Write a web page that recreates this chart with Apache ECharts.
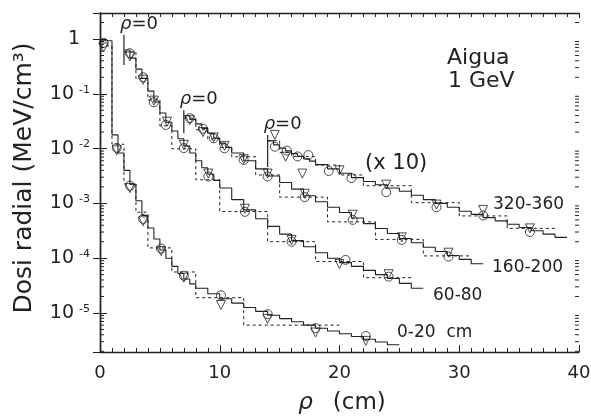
<!DOCTYPE html>
<html>
<head>
<meta charset="utf-8">
<script src="https://cdn.jsdelivr.net/npm/echarts@6/dist/echarts.min.js"></script>
<style>
  html, body { margin: 0; padding: 0; background: #fff; }
  #chart { width: 591px; height: 418px; }
</style>
</head>
<body>
<div id="chart"></div>
<script>
// eixos
const xMin = 0, xMax = 40, xStep = 10;
const yMin = 1.94e-6, yMax = 2.98;
const decadeLabels = ['1', '10 -1', '10 -2', '10 -3', '10 -4', '10 -5'];

// 0-20 cm : histograma continu (simulacio), histograma discontinu, mesures
const edges020 = [0, 1, 1.5, 2, 2.5, 3, 3.5, 4, 4.5, 5, 5.5, 6, 6.5, 7, 7.5, 8, 9, 10, 11, 12, 13, 14, 15, 16, 17, 18, 19, 20, 21, 22, 23, 24, 25];
const solid020 = [0.93, 0.0178, 0.0083, 0.0040, 0.00224, 0.00112, 6.0e-4, 3.55e-4, 2.24e-4, 1.41e-4, 1.0e-4, 7.1e-5, 5.25e-5, 4.17e-5, 3.39e-5, 2.82e-5, 2.24e-5, 1.82e-5, 1.51e-5, 1.26e-5, 1.07e-5, 9.1e-6, 7.9e-6, 6.9e-6, 6.0e-6, 5.25e-6, 4.68e-6, 4.17e-6, 3.72e-6, 3.31e-6, 2.95e-6, 2.63e-6];
const dashEdges020 = [0, 1, 2, 3, 4, 6, 8, 12, 20];
const dash020 = [0.75, 0.012, 0.00226, 6.9e-4, 1.54e-4, 5.6e-5, 1.9e-5, 6.0e-6];
const circ020 = [[0.3, 0.85], [1.4, 0.0103], [2.5, 0.0021], [3.6, 5.2e-4], [5.1, 1.5e-4], [7.0, 4.8e-5], [10.1, 2.1e-5], [14.0, 9.5e-6], [18.0, 5.3e-6], [22.2, 3.8e-6]];
const tri020 = [[0.3, 0.7], [1.4, 0.0093], [2.5, 0.0019], [3.6, 4.7e-4], [5.1, 1.35e-4], [7.0, 4.4e-5], [10.1, 1.4e-5], [14.0, 7.8e-6], [18.0, 4.4e-6], [22.2, 3.1e-6]];

// 60-80 cm (desplacat, rho=0 a x=2)
const edges6080 = [2, 2.5, 3, 3.5, 4, 4.5, 5, 5.5, 6, 6.5, 7, 7.5, 8, 8.5, 9, 9.5, 10, 11, 12, 13, 14, 15, 16, 17, 18, 19, 20, 21, 22, 23, 24, 25, 26, 27];
const solid6080 = [0.631, 0.447, 0.282, 0.191, 0.112, 0.0708, 0.0447, 0.0302, 0.0209, 0.0151, 0.0112, 0.0083, 0.0060, 0.00447, 0.00339, 0.00263, 0.00191, 0.00117, 7.6e-4, 5.25e-4, 3.8e-4, 2.75e-4, 2.09e-4, 1.62e-4, 1.26e-4, 1.0e-4, 8.3e-5, 7.1e-5, 6.0e-5, 5.0e-5, 4.27e-5, 3.47e-5, 2.82e-5];
const dashEdges6080 = [2, 3, 4, 5, 6, 8, 10, 14, 18, 22, 26];
const dash6080 = [0.58, 0.19, 0.077, 0.026, 0.0099, 0.0027, 7.1e-4, 2.0e-4, 8.7e-5, 4.4e-5];
const circ6080 = [[2.5, 0.55], [3.6, 0.20], [4.5, 0.070], [5.5, 0.027], [7.0, 0.0102], [9.05, 0.0031], [12.1, 7.0e-4], [16.0, 2.0e-4], [20.5, 9.3e-5], [24.1, 4.6e-5]];
const tri6080 = [[2.5, 0.48], [3.6, 0.18], [4.5, 0.075], [5.6, 0.031], [7.0, 0.0117], [9.05, 0.0035], [12.1, 8.0e-4], [16.0, 2.15e-4], [20.0, 7.8e-5], [24.1, 5.1e-5]];

// 160-200 cm (rho=0 a x=7)
const edges160200 = [7, 7.5, 8, 8.5, 9, 9.5, 10, 10.5, 11, 12, 13, 14, 15, 16, 17, 18, 19, 20, 21, 22, 23, 24, 25, 26, 27, 28, 29, 30, 31, 32];
const solid160200 = [0.0398, 0.0339, 0.0282, 0.0234, 0.0191, 0.0155, 0.0126, 0.0105, 0.0083, 0.0060, 0.00427, 0.00316, 0.0024, 0.00182, 0.00138, 0.00107, 8.5e-4, 6.8e-4, 5.4e-4, 4.27e-4, 3.47e-4, 2.82e-4, 2.29e-4, 1.91e-4, 1.58e-4, 1.32e-4, 1.12e-4, 9.5e-5, 7.9e-5];
const dashEdges160200 = [7, 8, 9, 10, 11, 13, 15, 19, 23, 27, 31];
const dash160200 = [0.036, 0.022, 0.015, 0.0105, 0.0071, 0.0033, 0.0013, 4.6e-4, 2.2e-4, 1.1e-4];
const circ160200 = [[7.5, 0.036], [8.6, 0.023], [9.5, 0.0154], [10.4, 0.0101], [12.0, 0.0062], [14.0, 0.0031], [17.1, 0.0013], [21.1, 5.0e-4], [25.2, 2.15e-4], [29.1, 1.07e-4]];
const tri160200 = [[7.5, 0.033], [8.6, 0.020], [9.5, 0.016], [10.4, 0.0112], [12.0, 0.0064], [14.0, 0.0035], [17.1, 0.0015], [21.1, 6.2e-4], [25.2, 2.4e-4], [29.1, 1.26e-4]];

// 320-360 cm (x 10, rho=0 a x=14)
const edges320360 = [14, 14.5, 15, 15.5, 16, 16.5, 17, 17.5, 18, 19, 20, 21, 22, 23, 24, 25, 26, 27, 28, 29, 30, 31, 32, 33, 34, 35, 36, 37, 38, 39];
const solid320360 = [0.0138, 0.0117, 0.0102, 0.0091, 0.0081, 0.0072, 0.0065, 0.0059, 0.0051, 0.00427, 0.00355, 0.00295, 0.00251, 0.00219, 0.00191, 0.00166, 0.00141, 0.00117, 0.0010, 8.5e-4, 7.2e-4, 6.3e-4, 5.5e-4, 4.8e-4, 4.17e-4, 3.63e-4, 3.16e-4, 2.75e-4, 2.4e-4];
const dashEdges320360 = [14, 15, 16, 17, 18, 20, 22, 26, 30, 34, 38];
const dash320360 = [0.014, 0.0085, 0.0072, 0.0072, 0.005, 0.0033, 0.0021, 0.00103, 5.9e-4, 3.5e-4];
const circ320360 = [[14.6, 0.0108], [15.6, 0.0092], [16.5, 0.0072], [17.4, 0.0076], [19.1, 0.0039], [21.0, 0.0029], [23.9, 0.0016], [28.1, 8.5e-4], [32.0, 6.0e-4], [35.9, 3.0e-4]];
const tri320360 = [[14.6, 0.0178], [15.5, 0.0071], [16.9, 0.0035], [20.0, 0.0040], [23.9, 0.0022], [28.1, 9.5e-4], [32.0, 7.6e-4], [35.9, 3.5e-4]];

// marques rho=0
const rho0X = [2, 7, 14];
const rho0Top = [1.18, 0.050, 0.0177];
const rho0Bottom = [0.336, 0.019, 0.0046];

const INK = '#222';
const FONT = 'DejaVu Sans';

function steps(edges, vals) {
  const pts = [];
  for (let i = 0; i < vals.length; i++) {
    pts.push([edges[i], vals[i]], [edges[i + 1], vals[i]]);
  }
  return pts;
}

// ticks menors del eix log (2..9 x 10^k)
const minorY = [];
for (let k = -6; k <= 0; k++) {
  for (let m = 2; m <= 9; m++) {
    const v = m * Math.pow(10, k);
    if (v > yMin && v < yMax) minorY.push([xMin, v]);
  }
}

const curves = [
  [edges020, solid020, dashEdges020, dash020, circ020, tri020],
  [edges6080, solid6080, dashEdges6080, dash6080, circ6080, tri6080],
  [edges160200, solid160200, dashEdges160200, dash160200, circ160200, tri160200],
  [edges320360, solid320360, dashEdges320360, dash320360, circ320360, tri320360]
];

let series = [];
curves.forEach(c => {
  series.push({
    type: 'line', data: steps(c[0], c[1]), symbol: 'none', z: 3,
    lineStyle: { color: INK, width: 1.1 }
  });
  series.push({
    type: 'line', data: steps(c[2], c[3]), symbol: 'none', z: 2,
    lineStyle: { color: INK, width: 1, type: [3, 3] }
  });
  series.push({
    type: 'scatter', data: c[4], symbol: 'circle', symbolSize: 9, z: 4,
    itemStyle: { color: 'rgba(0,0,0,0)', borderColor: INK, borderWidth: 1 }
  });
  series.push({
    type: 'scatter', data: c[5], symbol: 'triangle', symbolRotate: 180, symbolSize: 9, z: 4,
    itemStyle: { color: 'rgba(0,0,0,0)', borderColor: INK, borderWidth: 1 }
  });
});

// linies rho=0 amb la seva etiqueta al punt superior
rho0X.forEach((x, i) => {
  series.push({
    type: 'line', symbol: 'circle', symbolSize: 1, showSymbol: true, z: 3,
    itemStyle: { color: 'rgba(0,0,0,0)' },
    lineStyle: { color: INK, width: 1.2 },
    data: [
      { value: [x, rho0Top[i]], label: {
          show: true, position: 'top', align: 'left', offset: [-4, 0], distance: 1,
          formatter: '{i|ρ}=0', fontFamily: FONT, fontSize: 18, color: INK,
          rich: { i: { fontStyle: 'italic', fontFamily: FONT, fontSize: 18, color: INK } }
        } },
      [x, rho0Bottom[i]]
    ]
  });
});

series.push({
  type: 'custom', data: minorY, clip: false, z: 5, silent: true,
  renderItem: function (params, api) {
    const v = api.value(1);
    const pL = api.coord([xMin, v]);
    const pR = api.coord([xMax, v]);
    return {
      type: 'group',
      children: [
        { type: 'line', shape: { x1: pL[0], y1: pL[1], x2: pL[0] + 4, y2: pL[1] }, style: { stroke: INK, lineWidth: 1 } },
        { type: 'line', shape: { x1: pR[0] - 4, y1: pR[1], x2: pR[0], y2: pR[1] }, style: { stroke: INK, lineWidth: 1 } }
      ]
    };
  }
});

function yLabel(v) {
  const lg = Math.log10(v);
  const e = Math.round(lg);
  if (Math.abs(lg - e) > 1e-6) return '';
  const txt = decadeLabels[-e];
  if (!txt) return '';
  if (txt === '1') return '{n|1}{p|}';
  const parts = txt.split(' ');
  return '{n|' + parts[0] + '}{s|' + parts[1] + '}';
}

const axisLine = { show: true, lineStyle: { color: INK, width: 1.4 } };

let chart = echarts.init(document.getElementById('chart'));
let option = {
  animation: false,
  backgroundColor: '#fff',
  grid: { left: 100, top: 13, width: 479, height: 339, outerBoundsMode: 'none' },
  xAxis: [
    {
      type: 'value', position: 'bottom', min: xMin, max: xMax, interval: xStep,
      axisLine: axisLine,
      axisTick: { show: true, inside: true, length: 7, lineStyle: { color: INK, width: 1 } },
      minorTick: { show: true, splitNumber: 10, length: 4, lineStyle: { color: INK, width: 1 } },
      splitLine: { show: false },
      axisLabel: { margin: 12, fontFamily: FONT, fontSize: 18, color: INK }
    },
    {
      type: 'value', position: 'top', min: xMin, max: xMax, interval: xStep,
      axisLine: axisLine,
      axisTick: { show: true, inside: true, length: 5, lineStyle: { color: INK, width: 1 } },
      minorTick: { show: true, splitNumber: 10, length: 4, lineStyle: { color: INK, width: 1 } },
      splitLine: { show: false },
      axisLabel: { show: false }
    }
  ],
  yAxis: [
    {
      type: 'log', logBase: 10, position: 'left', min: yMin, max: yMax,
      axisLine: axisLine,
      axisTick: { show: true, inside: true, length: 7, lineStyle: { color: INK, width: 1 } },
      splitLine: { show: false },
      axisLabel: {
        margin: 10, formatter: yLabel, color: INK,
        rich: {
          n: { fontFamily: FONT, fontSize: 19, color: INK },
          s: { fontFamily: FONT, fontSize: 11, color: INK, verticalAlign: 'top', padding: [0, 0, 0, 5] },
          p: { width: 10 }
        }
      }
    },
    {
      type: 'log', logBase: 10, position: 'right', min: yMin, max: yMax,
      axisLine: axisLine,
      axisTick: { show: true, inside: true, length: 7, lineStyle: { color: INK, width: 1 } },
      splitLine: { show: false },
      axisLabel: { show: false }
    }
  ],
  graphic: [
    { type: 'text', x: 447, y: 58, style: { text: 'Aigua', fontFamily: FONT, fontSize: 22, fill: INK, verticalAlign: 'middle' } },
    { type: 'text', x: 448, y: 81, style: { text: '1 GeV', fontFamily: FONT, fontSize: 22, fill: INK, verticalAlign: 'middle' } },
    { type: 'text', x: 365, y: 164, style: { text: '(x 10)', fontFamily: FONT, fontSize: 21, fill: INK, verticalAlign: 'middle' } },
    { type: 'text', x: 493, y: 205, style: { text: '320-360', fontFamily: FONT, fontSize: 17, fill: INK, verticalAlign: 'middle' } },
    { type: 'text', x: 492, y: 268, style: { text: '160-200', fontFamily: FONT, fontSize: 17, fill: INK, verticalAlign: 'middle' } },
    { type: 'text', x: 433, y: 296, style: { text: '60-80', fontFamily: FONT, fontSize: 17, fill: INK, verticalAlign: 'middle' } },
    { type: 'text', x: 397, y: 333, style: { text: '0-20  cm', fontFamily: FONT, fontSize: 17, fill: INK, verticalAlign: 'middle' } },
    { type: 'text', x: 24, y: 178, rotation: Math.PI / 2,
      style: { text: 'Dosi radial (MeV/cm³)', fontFamily: FONT, fontSize: 25, fill: INK, align: 'center', verticalAlign: 'middle' } },
    { type: 'text', x: 342, y: 403,
      style: { text: '{i|ρ}(cm)', fontFamily: FONT, fontSize: 23, fill: INK, align: 'center', verticalAlign: 'middle',
        rich: { i: { fontStyle: 'italic', fontFamily: FONT, fontSize: 23, fill: INK, padding: [0, 20, 0, 0] } } } }
  ],
  series: series
};
chart.setOption(option);
</script>
</body>
</html>
